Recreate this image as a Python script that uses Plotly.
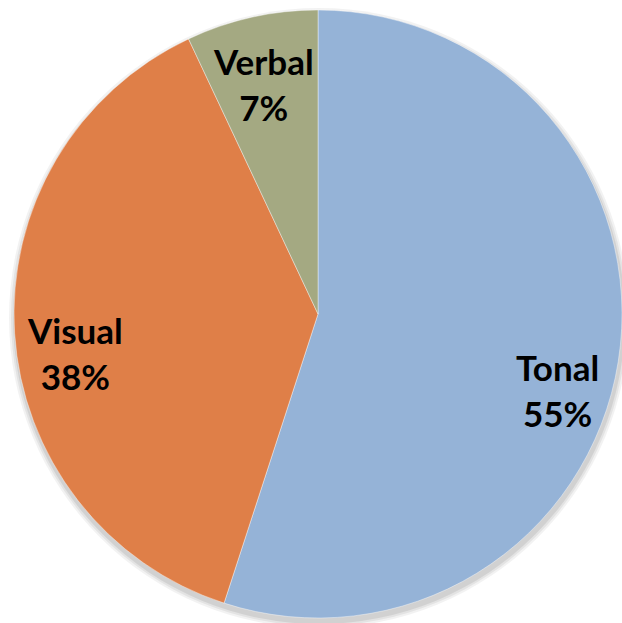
import plotly.graph_objects as go

labels = ["Tonal", "Visual", "Verbal"]
values = [55, 38, 7]
colors = ["#95B3D7", "#DF7F48", "#A4A982"]

# label block centres (paper coords)
label_x = [0.896, 0.121, 0.424]
label_y = [0.374, 0.434, 0.865]

W, H = 622, 623
cx, cy, R = 318, 314, 304

fig = go.Figure()

# soft drop shadow under the pie
for i, (dr, op) in enumerate([(6, 0.05), (4, 0.06), (2, 0.08)]):
    r = R + dr
    ox, oy = 1, 4
    fig.add_shape(
        type="circle", xref="paper", yref="paper", layer="below",
        x0=(cx + ox - r) / W, x1=(cx + ox + r) / W,
        y0=1 - (cy + oy + r) / H, y1=1 - (cy + oy - r) / H,
        fillcolor=f"rgba(0,0,0,{op})", line=dict(width=0),
    )

fig.add_trace(go.Pie(
    labels=labels,
    values=values,
    sort=False,
    direction="clockwise",
    rotation=0,
    marker=dict(colors=colors, line=dict(color="rgba(255,255,255,0.5)", width=0.8)),
    textinfo="none",
    hoverinfo="label+percent",
    showlegend=False,
    domain=dict(x=[(cx - R) / W, (cx + R) / W], y=[1 - (cy + R) / H, 1 - (cy - R) / H]),
))

for lab, v, x, y in zip(labels, values, label_x, label_y):
    fig.add_annotation(
        x=x, y=y, xref="paper", yref="paper",
        xanchor="center", yanchor="middle",
        text=f"<b>{lab}<br>{v}%</b>",
        showarrow=False,
        font=dict(family="Lato, sans-serif", size=35, color="#000000"),
        align="center",
    )

fig.update_layout(
    width=W, height=H,
    margin=dict(l=0, r=0, t=0, b=0),
    paper_bgcolor="white",
    plot_bgcolor="white",
    xaxis=dict(visible=False), yaxis=dict(visible=False),
)

fig.write_html("out.html")
